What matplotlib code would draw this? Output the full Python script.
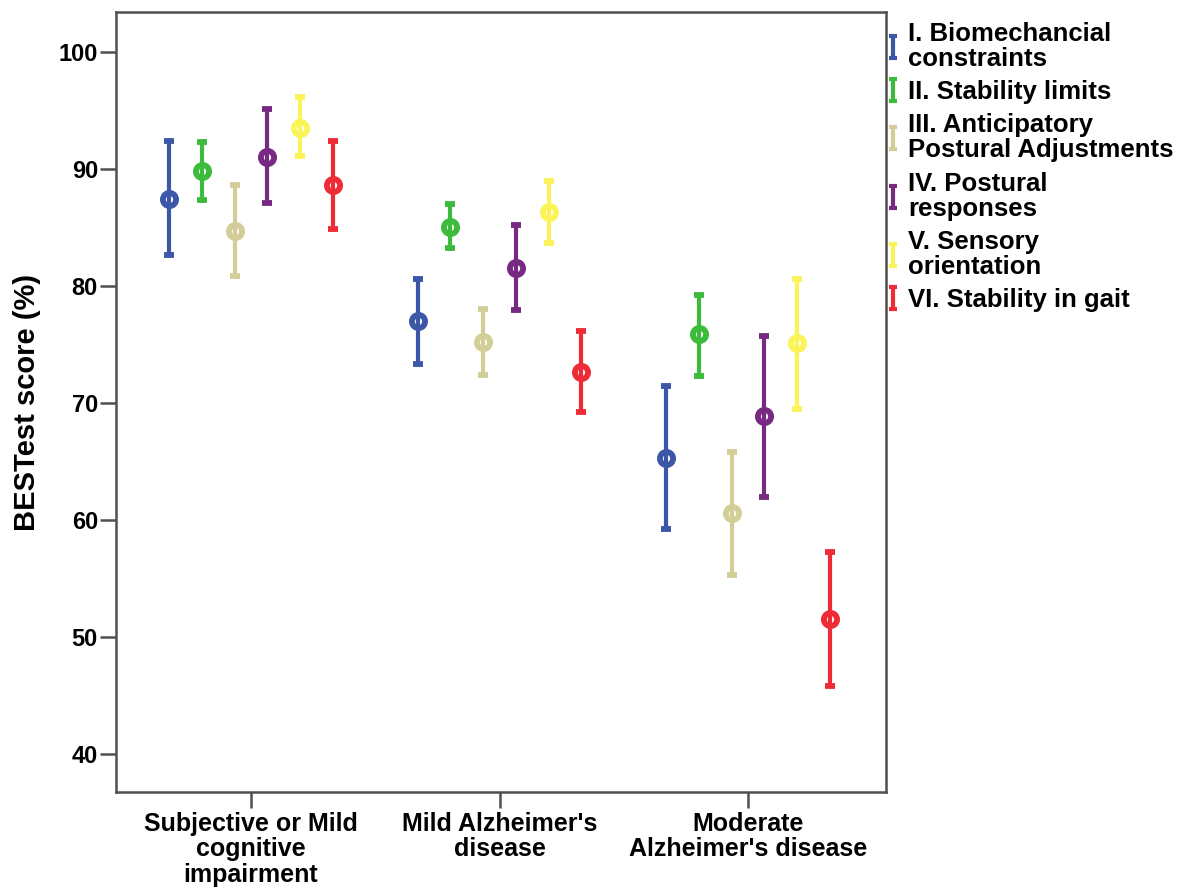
import matplotlib
matplotlib.use("Agg")
import matplotlib.pyplot as plt
import numpy as np
from matplotlib.path import Path
from matplotlib.lines import Line2D

plt.rcParams['font.family'] = ['Liberation Sans', 'DejaVu Sans']
plt.rcParams['font.weight'] = 'bold'

groups = ["Subjective or Mild\ncognitive\nimpairment", "Mild Alzheimer's\ndisease",
          "Moderate\nAlzheimer's disease"]
series = ["I. Biomechancial\nconstraints", "II. Stability limits",
          "III. Anticipatory\nPostural Adjustments", "IV. Postural\nresponses",
          "V. Sensory\norientation", "VI. Stability in gait"]
colors = ["#3d57a8", "#3dbb3d", "#d3ce97", "#782a83", "#fbf459", "#ee2c36"]

means = [
    [87.4, 77.0, 65.3],
    [89.8, 85.0, 75.9],
    [84.7, 75.2, 60.6],
    [91.0, 81.5, 68.9],
    [93.5, 86.3, 75.1],
    [88.6, 72.6, 51.5],
]
lower = [
    [82.6, 73.3, 59.2],
    [87.3, 83.2, 72.3],
    [80.8, 72.4, 55.3],
    [87.1, 77.9, 62.0],
    [91.1, 83.7, 69.5],
    [84.9, 69.2, 45.8],
]
upper = [
    [92.4, 80.6, 71.4],
    [92.3, 87.0, 79.2],
    [88.6, 78.0, 65.8],
    [95.1, 85.2, 75.7],
    [96.1, 89.0, 80.6],
    [92.4, 76.1, 57.3],
]
yticks = [40, 50, 60, 70, 80, 90, 100]

fig = plt.figure(figsize=(11.81, 8.91), dpi=100)
ax = fig.add_axes([116/1181, 99/891, (886-116)/1181, (792-12)/891])

x = np.arange(len(groups))
offsets = (np.arange(len(series)) - 2.5) * 0.1316
for i, (c, m, lo, hi) in enumerate(zip(colors, means, lower, upper)):
    m = np.array(m); lo = np.array(lo); hi = np.array(hi)
    ax.errorbar(x + offsets[i], m, yerr=[m - lo, hi - m], fmt='o', color=c,
                ecolor=c, elinewidth=3.0, capsize=3.3, capthick=3.0,
                markersize=9.5, markerfacecolor='none', markeredgewidth=4.2)

ax.set_xlim(-0.543, 2.555)
ax.set_ylim(36.75, 103.4)
ax.set_xticks(x)
ax.set_xticklabels(groups, fontsize=18, fontweight='bold', linespacing=1.07)
ax.set_yticks(yticks)
ax.set_yticklabels([str(t) for t in yticks], fontsize=17, fontweight='bold')
ax.set_ylabel("BESTest score (%)", fontsize=21, fontweight='bold', labelpad=13)
for s in ax.spines.values():
    s.set_color('#505050')
    s.set_linewidth(1.8)
ax.tick_params(axis='both', direction='out', length=11.5, width=1.8, color='#505050', pad=1.5)
ax.tick_params(axis='x', pad=3)

ibar = Path([(-0.4, -1), (0.4, -1), (0, -1), (0, 1), (-0.4, 1), (0.4, 1)],
            [Path.MOVETO, Path.LINETO, Path.MOVETO, Path.LINETO, Path.MOVETO, Path.LINETO])
handles = [Line2D([], [], linestyle='', marker=ibar, markersize=16, markeredgewidth=3,
                  color=c, markerfacecolor='none') for c in colors]
leg = fig.legend(handles, series, loc='upper left', bbox_to_anchor=(885/1181, 1 - 22/891),
                 frameon=False, fontsize=18.5, handlelength=0.6, handletextpad=0.3,
                 labelspacing=0.36, borderaxespad=0, borderpad=0)
for t in leg.get_texts():
    t.set_fontweight('bold')
    t.set_linespacing(1.05)

fig.savefig("out.png", dpi=100)
